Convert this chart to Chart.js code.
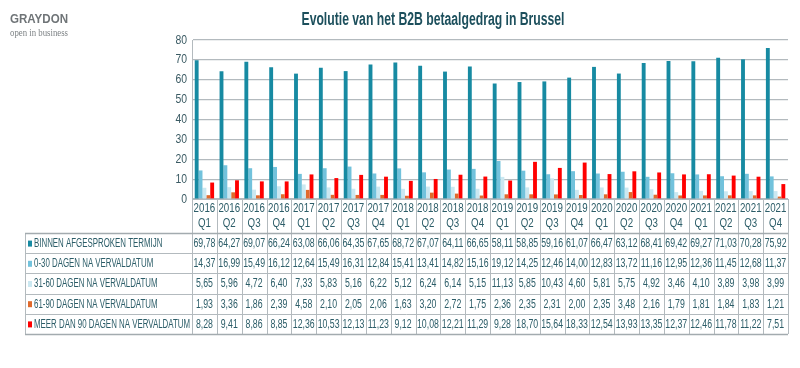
<!DOCTYPE html>
<html>
<head>
<meta charset="utf-8">
<script src="https://cdn.jsdelivr.net/npm/chart.js@4.4.0/dist/chart.umd.min.js"></script>
<style>
  html,body{margin:0;padding:0;background:#fff;}
  #wrap{position:relative;width:800px;height:368px;overflow:hidden;}
  canvas{position:absolute;left:0;top:0;}
</style>
</head>
<body>
<div id="wrap">
  <canvas id="c" width="800" height="368"></canvas>
</div>
<script>
const chartTitle = "Evolutie van het B2B betaalgedrag in Brussel";
const years = ["2016","2016","2016","2016","2017","2017","2017","2017","2018","2018","2018","2018","2019","2019","2019","2019","2020","2020","2020","2020","2021","2021","2021","2021"];
const quarters = ["Q1","Q2","Q3","Q4","Q1","Q2","Q3","Q4","Q1","Q2","Q3","Q4","Q1","Q2","Q3","Q4","Q1","Q2","Q3","Q4","Q1","Q2","Q3","Q4"];
const seriesNames = ["BINNEN AFGESPROKEN TERMIJN","0-30 DAGEN NA VERVALDATUM","31-60 DAGEN NA VERVALDATUM","61-90 DAGEN NA VERVALDATUM","MEER DAN 90 DAGEN NA VERVALDATUM"];
const binnenTermijn = [69.78,64.27,69.07,66.24,63.08,66.06,64.35,67.65,68.72,67.07,64.11,66.65,58.11,58.85,59.16,61.07,66.47,63.12,68.41,69.42,69.27,71.03,70.28,75.92];
const dagen0_30 = [14.37,16.99,15.49,16.12,12.64,15.49,16.31,12.84,15.41,13.41,14.82,15.16,19.12,14.25,12.46,14.00,12.83,13.72,11.16,12.95,12.36,11.45,12.68,11.37];
const dagen31_60 = [5.65,5.96,4.72,6.40,7.33,5.83,5.16,6.22,5.12,6.24,6.14,5.15,11.13,5.85,10.43,4.60,5.81,5.75,4.92,3.46,4.10,3.89,3.98,3.99];
const dagen61_90 = [1.93,3.36,1.86,2.39,4.58,2.10,2.05,2.06,1.63,3.20,2.72,1.75,2.36,2.35,2.31,2.00,2.35,3.48,2.16,1.79,1.81,1.84,1.83,1.21];
const dagenMeer90 = [8.28,9.41,8.86,8.85,12.36,10.53,12.13,11.23,9.12,10.08,12.21,11.29,9.28,18.70,15.64,18.33,12.54,13.93,13.35,12.37,12.46,11.78,11.22,7.51];
const yTicks = [0,10,20,30,40,50,60,70,80];

const colors = ["#178aa2","#72c2dc","#cbe8f1","#e06a2c","#ff0000"];
const allData = [binnenTermijn,dagen0_30,dagen31_60,dagen61_90,dagenMeer90];
const labels = years.map((y,i)=>[y,quarters[i]]);
const FONT = '"Liberation Sans",Arial,sans-serif';
const textCol = "#2c5d68";
const lineCol = "#b3babe";

function txt(ctx, s, x, y, align, sx){
  ctx.save();
  ctx.translate(x, y);
  ctx.scale(sx, 1);
  ctx.textAlign = align;
  ctx.fillText(s, 0, 0);
  ctx.restore();
}

const tablePlugin = {
  id:'tablePlugin',
  afterDraw(chart){
    const ctx = chart.ctx;
    const xs = chart.scales.x;
    const ys = chart.scales.y;
    const ca = chart.chartArea;
    const n = labels.length;
    const cw = (ca.right - ca.left)/n;
    const headTop = ca.bottom;
    const headBot = headTop + 34;
    const rowH = 20.2;
    const tLeft = 25;
    const tBot = headBot + rowH*5;
    ctx.save();
    ctx.textBaseline = 'middle';

    // logo
    ctx.fillStyle = "#6f7477";
    ctx.font = 'bold 12.5px ' + FONT;
    let w = ctx.measureText("GRAYDON").width;
    txt(ctx, "GRAYDON", 10, 20, 'left', 58/w);
    ctx.fillStyle = "#7d8285";
    ctx.font = '11px "Liberation Serif",serif';
    w = ctx.measureText("open in business").width;
    txt(ctx, "open in business", 10, 33, 'left', 58/w);

    // title
    ctx.fillStyle = "#1c4f5c";
    ctx.font = 'bold 17.5px ' + FONT;
    w = ctx.measureText(chartTitle).width;
    txt(ctx, chartTitle, 433, 20, 'center', 263/w);

    // y tick labels
    ctx.fillStyle = "#3a5a63";
    ctx.font = '13px ' + FONT;
    yTicks.forEach(v => txt(ctx, String(v), 187, ys.getPixelForValue(v), 'right', 0.8));

    ctx.strokeStyle = lineCol;
    ctx.lineWidth = 1;
    for(let i=0;i<=n;i++){
      const x = Math.round(ca.left + i*cw) + 0.5;
      ctx.beginPath(); ctx.moveTo(x, headTop); ctx.lineTo(x, tBot); ctx.stroke();
    }
    ctx.beginPath(); ctx.moveTo(tLeft+0.5, headBot); ctx.lineTo(tLeft+0.5, tBot); ctx.stroke();
    for(let r=0;r<=5;r++){
      const y = Math.round(headBot + r*rowH)+0.5;
      ctx.lineWidth = (r===0||r===5)?1.6:1;
      ctx.strokeStyle = (r===0||r===5)?"#a3abaf":lineCol;
      ctx.beginPath(); ctx.moveTo(tLeft, y); ctx.lineTo(ca.right, y); ctx.stroke();
    }

    // header labels
    ctx.fillStyle = textCol;
    ctx.font = '13.5px ' + FONT;
    for(let i=0;i<n;i++){
      const cx = xs.getPixelForTick(i);
      txt(ctx, years[i], cx, headTop + 9.5, 'center', 0.72);
      txt(ctx, quarters[i], cx, headTop + 24, 'center', 0.72);
    }

    ctx.font = '12px ' + FONT;
    w = ctx.measureText(seriesNames[4]).width;
    const lsx = 156 / w;
    for(let r=0;r<5;r++){
      const cy = headBot + r*rowH + rowH/2 + 0.5;
      ctx.fillStyle = colors[r];
      ctx.fillRect(tLeft+3, cy-3, 4, 6);
      ctx.fillStyle = textCol;
      ctx.font = '12px ' + FONT;
      txt(ctx, seriesNames[r], tLeft+9, cy, 'left', lsx);
      ctx.font = '12.5px ' + FONT;
      for(let i=0;i<n;i++){
        txt(ctx, allData[r][i].toFixed(2).replace('.',','), xs.getPixelForTick(i), cy, 'center', 0.7);
      }
    }
    ctx.restore();
  }
};

new Chart(document.getElementById('c'), {
  type:'bar',
  data:{
    labels: labels,
    datasets: seriesNames.map((name,k)=>({
      label:name, data:allData[k], backgroundColor:colors[k], borderWidth:0,
      barPercentage:1.0, categoryPercentage:0.78
    }))
  },
  options:{
    responsive:false, animation:false,
    layout:{padding:{top:40, bottom:135, right:12, left:0}},
    plugins:{legend:{display:false}, title:{display:false}, tooltip:{enabled:false}},
    scales:{
      x:{
        grid:{display:false, drawTicks:false},
        border:{display:true, color:lineCol},
        ticks:{display:false},
        afterFit(s){ s.height = 34; }
      },
      y:{
        min:0, max:80,
        afterBuildTicks(s){ s.ticks = yTicks.map(v=>({value:v})); },
        grid:{color:lineCol, drawTicks:false, lineWidth:1.2},
        border:{display:true, color:lineCol},
        ticks:{display:false},
        afterFit(s){ s.width = 192; }
      }
    }
  },
  plugins:[tablePlugin]
});
</script>
</body>
</html>
